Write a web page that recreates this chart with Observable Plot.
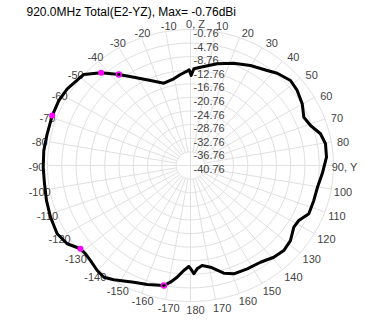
<!DOCTYPE html>
<html>
<head>
<meta charset="utf-8">
<script src="https://cdn.jsdelivr.net/npm/d3@7"></script>
<script src="https://cdn.jsdelivr.net/npm/@observablehq/plot@0.6"></script>
<style>
  html, body { margin: 0; padding: 0; background: #fff; }
</style>
</head>
<body>
<div id="chart"></div>
<script>
// ---------- data ----------
const chartTitle = "920.0MHz Total(E2-YZ), Max= -0.76dBi";

// pattern: angle (deg, 0 = Z at top, +90 = Y at right) and total gain (dBi)
const angleDeg = [
  -179.1, -176.5, -173.5, -170.7, -168.1, -160.9, -155.2, -147.4, -143.6, -139.8,
  -135.0, -131.5, -128.5, -123.7, -118.3, -111.2, -104.3, -97.5, -90.7, -83.9,
  -76.9, -69.2, -62.6, -56.8, -49.8, -48.1, -42.5, -36.8, -31.4, -24.1,
  -17.1, -10.4, -6.0, -2.0, -0.8, 0.4, 1.9, 5.5, 14.0, 21.8,
  29.7, 37.5, 41.8, 48.2, 53.5, 59.9, 65.9, 70.7, 75.6, 80.4,
  86.3, 93.8, 100.2, 106.6, 113.2, 118.1, 122.1, 128.3, 133.8, 139.2,
  145.5, 152.4, 159.2, 163.6, 169.4, 173.7, 176.5, 178.3, 179.3
];
const gainDb = [
  -11.05, -9.82, -7.70, -5.98, -4.68, -3.72, -2.95, -0.88, 0.07, -0.33,
  -1.22, -1.55, -1.43, 0.71, 1.6, 1.25, 0.82, 0.43, 0.45, 0.51,
  0.40, 0.62, 0.74, 0.45, -0.50, -0.67, -3.78, -7.32, -10.33, -13.37,
  -15.43, -14.84, -13.85, -13.0, -12.6, -14.29, -12.3, -11.71, -9.93, -8.36,
  -6.90, -5.53, -4.36, -3.24, -3.64, -4.63, -6.03, -5.19, -3.22, -2.46,
  -2.64, -3.84, -4.67, -4.77, -4.75, -6.42, -6.64, -5.14, -4.62, -5.12,
  -6.23, -6.48, -6.68, -7.74, -10.33, -11.17, -10.32, -8.90, -9.9
];

// magenta markers
const markerFilledAngle = [-42.5, -69.2, -128.5];
const markerFilledGain = [-3.78, 0.62, -1.43];
const markerOpenAngle = [-36.8, -168.1];
const markerOpenGain = [-7.32, -4.68];

// radial rings (dB) and their labels
const ringValues = [-0.76, -4.76, -8.76, -12.76, -16.76, -20.76, -24.76, -28.76, -32.76, -36.76, -40.76];
const ringLabels = ["-0.76", "-4.76", "-8.76", "-12.76", "-16.76", "-20.76", "-24.76", "-28.76", "-32.76", "-36.76", "-40.76"];

// angular spokes and labels
const spokeAngles = [0, 10, 20, 30, 40, 50, 60, 70, 80, 90, 100, 110, 120, 130, 140, 150, 160, 170, 180,
  -170, -160, -150, -140, -130, -120, -110, -100, -90, -80, -70, -60, -50, -40, -30, -20, -10];
const spokeLabels = ["0, Z", "10", "20", "30", "40", "50", "60", "70", "80", "90, Y", "100", "110", "120", "130", "140", "150", "160", "170", "180",
  "-170", "-160", "-150", "-140", "-130", "-120", "-110", "-100", "-90", "-80", "-70", "-60", "-50", "-40", "-30", "-20", "-10"];

// ---------- layout ----------
const W = 383, H = 320;
const CX = 190, CY = 165, RX = 143, RY = 136;
const rMin = -40.76, rMax = -0.76;
const rad = d => d * Math.PI / 180;
const norm = g => (g - rMin) / (rMax - rMin);
const font = "'Liberation Sans', Arial, Helvetica, sans-serif";
const labelColor = "#444";
const gridColor = "#e0e0e0";

// pattern points (closed)
const pattern = angleDeg.map((a, i) => ({a, g: gainDb[i]}));
pattern.push(pattern[0]);
const px = d => norm(d.g) * Math.sin(rad(d.a));
const py = d => norm(d.g) * Math.cos(rad(d.a));

const filled = markerFilledAngle.map((a, i) => ({a, g: markerFilledGain[i]}));
const open = markerOpenAngle.map((a, i) => ({a, g: markerOpenGain[i]}));

// ring polylines
const ringPts = [];
ringValues.slice(0, -1).forEach(v => {
  for (let t = 0; t <= 360; t += 2) ringPts.push({v, t});
});
const ringX = d => norm(d.v) * Math.sin(rad(d.t));
const ringY = d => norm(d.v) * Math.cos(rad(d.t));

const innerR = norm(ringValues[ringValues.length - 2]);
const spokes = spokeAngles.map(a => ({a, r0: (a % 90 === 0) ? 0 : innerR}));

const ringText = ringValues.map((v, i) => ({v, label: ringLabels[i]}));
const spokeText = spokeAngles.map((a, i) => ({a, label: spokeLabels[i]}));

const chart = Plot.plot({
  width: W,
  height: H,
  marginLeft: CX - RX,
  marginRight: W - CX - RX,
  marginTop: CY - RY,
  marginBottom: H - CY - RY,
  x: {domain: [-1, 1], axis: null},
  y: {domain: [-1, 1], axis: null},
  style: {background: "#fff", fontFamily: font, overflow: "visible"},
  marks: [
    Plot.line(ringPts, {x: ringX, y: ringY, z: "v", stroke: gridColor, strokeWidth: 1}),
    Plot.link(spokes, {
      x1: d => d.r0 * Math.sin(rad(d.a)), y1: d => d.r0 * Math.cos(rad(d.a)),
      x2: d => Math.sin(rad(d.a)), y2: d => Math.cos(rad(d.a)),
      stroke: gridColor, strokeWidth: 1
    }),
    Plot.text(ringText, {
      x: 3 / RX, y: d => norm(d.v) - 4 / RY, text: "label",
      textAnchor: "start", fontSize: 11, fill: labelColor
    }),
    Plot.text(spokeText, {
      x: d => (5 * Math.abs(Math.cos(rad(d.a))) + (RX + 11) * Math.sin(rad(d.a))) / RX,
      y: d => ((RY + 7) * Math.cos(rad(d.a)) - 2) / RY,
      text: "label", textAnchor: "middle", fontSize: 11, fill: labelColor
    }),
    Plot.line(pattern, {x: px, y: py, stroke: "#000", strokeWidth: 3, strokeLinejoin: "round", curve: "linear"}),
    Plot.dot(filled, {x: px, y: py, r: 3, fill: "#ff00ff", stroke: "none"}),
    Plot.dot(open, {x: px, y: py, r: 2.5, fill: "none", stroke: "#ff00ff", strokeWidth: 1.5}),
    Plot.text([chartTitle], {
      x: (26 - CX) / RX, y: (CY - 12) / RY, text: d => d,
      textAnchor: "start", fontSize: 12, fill: "#000"
    })
  ]
});
document.getElementById("chart").appendChild(chart);
</script>
</body>
</html>
